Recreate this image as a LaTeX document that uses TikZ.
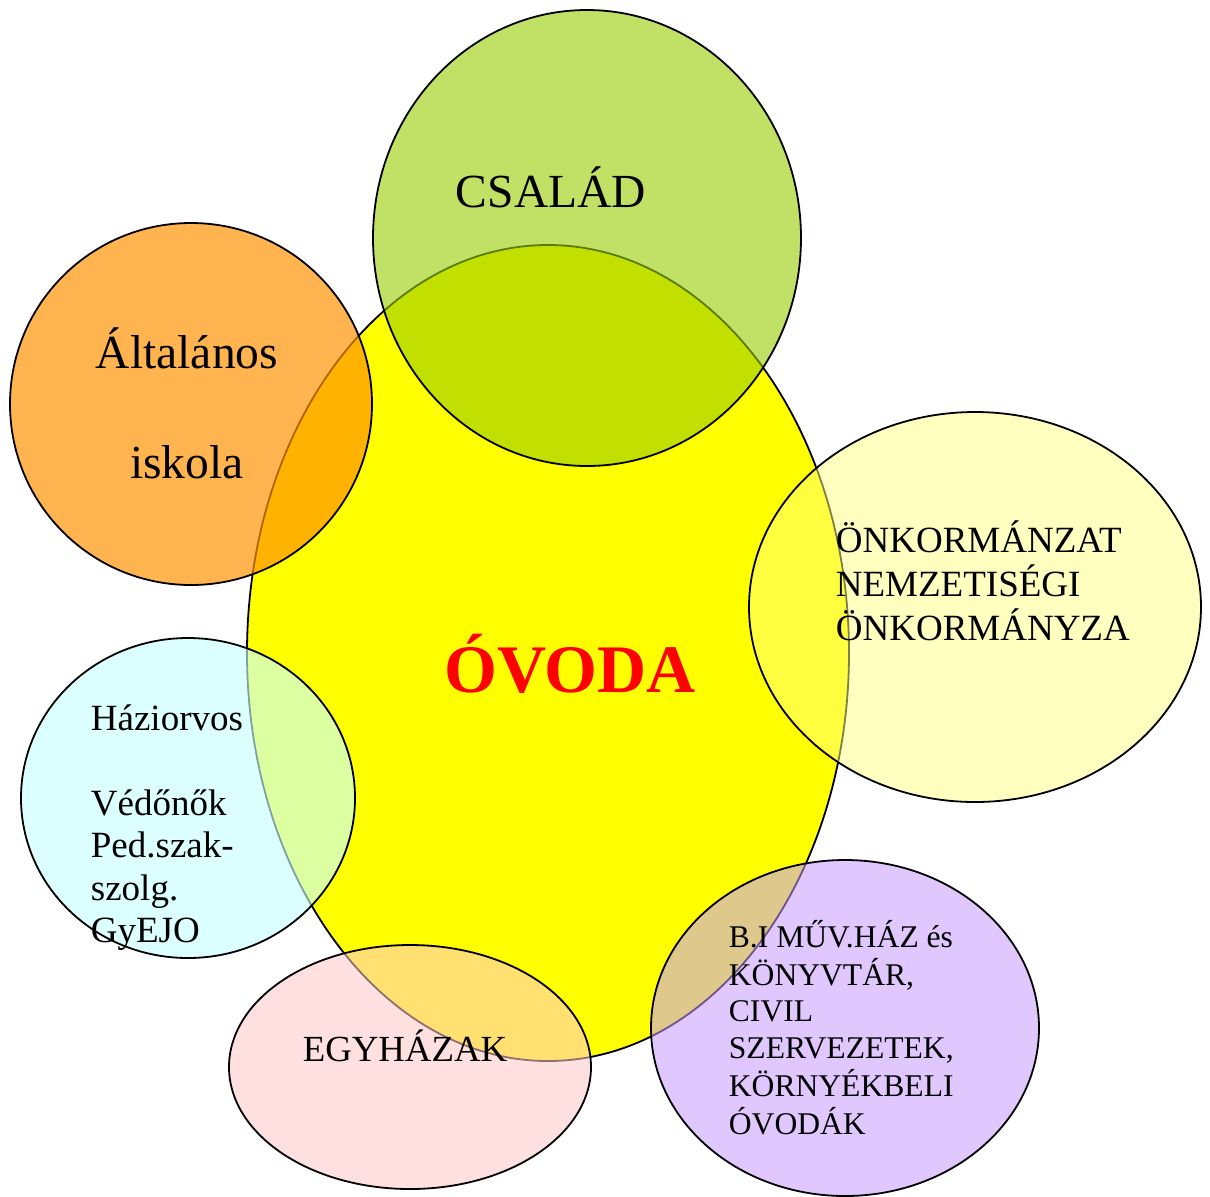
\documentclass[tikz,border=0pt]{standalone}
\usepackage{fontspec}
\setmainfont{Liberation Serif}
\usepackage{xcolor}
\usepackage{tikz}

\definecolor{ovodasarga}{RGB}{255,255,0}
\definecolor{csaladzold}{RGB}{152,204,0}
\definecolor{iskolanarancs}{RGB}{255,146,0}
\definecolor{onkormsarga}{RGB}{255,255,128}
\definecolor{orvoskek}{RGB}{200,255,255}
\definecolor{egyhazrozsa}{RGB}{255,200,200}
\definecolor{muvhazlila}{RGB}{198,155,255}

\begin{document}
\begin{tikzpicture}[x=.5pt, y=-.5pt, line width=.9pt,
    kor/.style={draw=black, fill=#1},
    felirat/.style={inner sep=0, text=black}]
    \useasboundingbox (0,0) rectangle (1210,1196);
    \draw[kor=ovodasarga] (548,653) ellipse [x radius=301, y radius=408];
    \draw[kor=csaladzold, fill opacity=.6] (587,238) ellipse [x radius=214, y radius=228];
    \draw[kor=iskolanarancs, fill opacity=.69] (191,404) ellipse [x radius=181, y radius=181];
    \draw[kor=onkormsarga, fill opacity=.5] (975,607) ellipse [x radius=226, y radius=195];
    \draw[kor=orvoskek, fill opacity=.63] (188,798) ellipse [x radius=167, y radius=160];
    \draw[kor=egyhazrozsa, fill opacity=.56] (410,1067) ellipse [x radius=181, y radius=122];
    \draw[kor=muvhazlila, fill opacity=.55] (845,1028) ellipse [x radius=194, y radius=168];
    \node[felirat, anchor=base, font=\fontsize{23.75}{28}\selectfont] (csalad) at (551,207) {CSALÁD};
    \node[felirat, anchor=base, font=\fontsize{23.75}{55}\selectfont] (iskola) at (187,368)
        {\begin{tabular}[t]{@{}c@{}}Általános\\iskola\end{tabular}};
    \node[felirat, anchor=base, text=red, font=\fontsize{34}{40}\selectfont\bfseries] (ovoda) at (570,692) {ÓVODA};
    \node[felirat, anchor=base west, font=\fontsize{18.5}{21}\selectfont] (onkorm) at (835,552)
        {\begin{tabular}[t]{@{}l@{}}ÖNKORMÁNZAT\\NEMZETISÉGI\\ÖNKORMÁNYZA\end{tabular}};
    \node[felirat, anchor=base west, font=\fontsize{18.5}{21.25}\selectfont] (orvos) at (90,730)
        {\begin{tabular}[t]{@{}l@{}}Háziorvos\\ \\Védőnők\\Ped.szak-\\szolg.\\GyEJO\end{tabular}};
    \node[felirat, anchor=base, font=\fontsize{18.4}{22}\selectfont] (egyhaz) at (405,1061) {EGYHÁZAK};
    \node[felirat, anchor=base west, font=\fontsize{15.8}{18.3}\selectfont] (muvhaz) at (728,947)
        {\begin{tabular}[t]{@{}l@{}}B.I MŰV.HÁZ és\\KÖNYVTÁR,\\CIVIL\\SZERVEZETEK,\\KÖRNYÉKBELI\\ÓVODÁK\end{tabular}};
\end{tikzpicture}
\end{document}
